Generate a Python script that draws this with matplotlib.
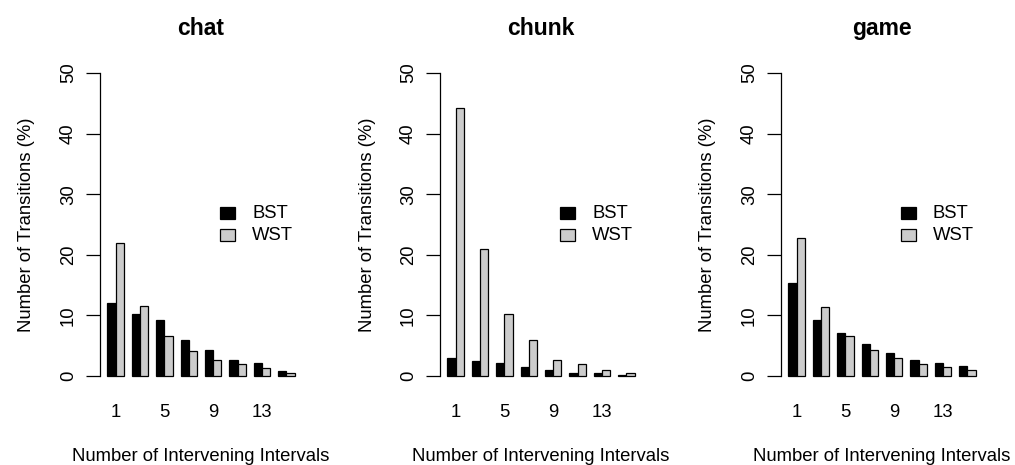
import matplotlib
matplotlib.use("Agg")
import matplotlib.pyplot as plt
from matplotlib.patches import Rectangle
import numpy as np

plt.rcParams["font.family"] = ["Liberation Sans", "DejaVu Sans"]

# Interval groups (only every other one gets a printed label)
intervals = ["1", "3", "5", "7", "9", "11", "13", "15"]
series_names = ["BST", "WST"]
series_colors = ["#000000", "#CCCCCC"]

chat_bst = [12.1, 10.2, 9.3, 6.0, 4.3, 2.7, 2.2, 0.8]
chat_wst = [21.9, 11.5, 6.6, 4.1, 2.6, 1.9, 1.3, 0.5]

chunk_bst = [3.0, 2.5, 2.1, 1.4, 1.0, 0.55, 0.5, 0.2]
chunk_wst = [44.2, 20.9, 10.2, 5.9, 2.7, 2.0, 1.0, 0.5]

game_bst = [15.4, 9.3, 7.0, 5.3, 3.8, 2.7, 2.1, 1.6]
game_wst = [22.7, 11.3, 6.6, 4.3, 3.0, 2.0, 1.4, 1.0]

panels = [
    ("chat", chat_bst, chat_wst),
    ("chunk", chunk_bst, chunk_wst),
    ("game", game_bst, game_wst),
]

W, H = 1015, 465
fig = plt.figure(figsize=(W / 100, H / 100), dpi=100)

base_fs = 13.3
lw = 0.9

# plot-region geometry in pixels (left edge of each panel, shared width/top/bottom)
lefts_px = [100, 440, 781]
width_px = 202
top_px, bottom_px = 61, 388

n = len(intervals)
group = np.arange(n)
x_bst = 1.5 + 3 * group
x_wst = 2.5 + 3 * group
x_mid = 2.0 + 3 * group

for (title, bst, wst), lpx in zip(panels, lefts_px):
    ax = fig.add_axes([lpx / W, (H - bottom_px) / H,
                       width_px / W, (bottom_px - top_px) / H])

    ax.bar(x_bst, bst, width=1.0, color=series_colors[0],
           edgecolor="black", linewidth=lw)
    ax.bar(x_wst, wst, width=1.0, color=series_colors[1],
           edgecolor="black", linewidth=lw)

    ax.set_xlim(0.08, 24.92)
    ax.set_ylim(-2, 52)

    for s in ("top", "right", "bottom"):
        ax.spines[s].set_visible(False)
    ax.spines["left"].set_bounds(0, 50)
    ax.spines["left"].set_linewidth(lw)

    ax.set_yticks(np.arange(0, 51, 10))
    ax.tick_params(axis="y", length=10, width=lw, pad=6.5,
                   labelsize=base_fs, labelrotation=90)
    for lab in ax.get_yticklabels():
        lab.set_va("center")

    ax.set_xticks(x_mid[::2])
    ax.set_xticklabels(intervals[::2])
    ax.tick_params(axis="x", length=0, pad=11.5, labelsize=base_fs)

    ax.set_title(title, fontsize=16.5, fontweight="bold", pad=18.7)

    ax.set_ylabel("Number of Transitions (%)", fontsize=base_fs, va="center")
    ax.yaxis.set_label_coords((27 - 100) / width_px, 0.5)

    ax.set_xlabel("Number of Intervening Intervals", fontsize=base_fs, va="top")
    ax.xaxis.set_label_coords(0.5, (bottom_px - 448) / (bottom_px - top_px))

    # legend: filled boxes with labels to their right
    hpx = bottom_px - top_px
    box_w, box_h = 15 / width_px, 12 / hpx
    box_x = 120 / width_px
    text_x = 152 / width_px
    for name, color, cy in zip(series_names, series_colors, [213, 235]):
        yc = (bottom_px - cy) / hpx
        ax.add_patch(Rectangle((box_x, yc - box_h / 2), box_w, box_h,
                               transform=ax.transAxes, facecolor=color,
                               edgecolor="black", linewidth=lw,
                               clip_on=False))
        ax.text(text_x, yc, name, transform=ax.transAxes, fontsize=base_fs,
                ha="left", va="center")

fig.savefig("out.png", dpi=100)
